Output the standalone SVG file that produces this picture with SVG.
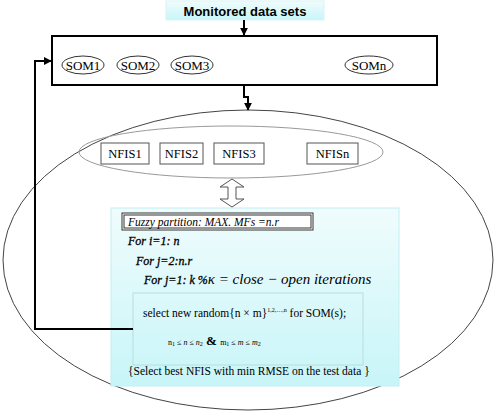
<svg xmlns="http://www.w3.org/2000/svg" width="494" height="417" viewBox="0 0 494 417">
<style>
.serif{font-family:'Liberation Serif','Times New Roman',serif;fill:#000}
.it{font-style:italic}
.som{fill:none;stroke:#333;stroke-width:1}
.nf{fill:#fff;stroke:#555;stroke-width:1}
.thick{fill:none;stroke:#000;stroke-width:2}
.for{stroke:#000;stroke-width:0.3}
</style>
<defs>
<linearGradient id="cy" x1="0" y1="0" x2="0" y2="1">
<stop offset="0" stop-color="#f0fcfd"/>
<stop offset="1" stop-color="#c8f5f8"/>
</linearGradient>
<marker id="ah" viewBox="0 0 10 10" refX="9" refY="5" markerWidth="4" markerHeight="4" orient="auto">
<path d="M0,0 L10,5 L0,10 z" fill="#000"/>
</marker>
</defs>
<g id="bigEllipse"><ellipse cx="248" cy="260" rx="245" ry="150" fill="none" stroke="#444" stroke-width="1"/></g>
<g id="title">
<rect x="166" y="1" width="158" height="19" fill="url(#cy)" stroke="#d8f4f6"/>
<text x="245" y="15.5" text-anchor="middle" font-family="'Liberation Sans', Arial, sans-serif" font-weight="bold" font-size="13">Monitored data sets</text>
</g>
<g id="somBox">
<rect x="52" y="36" width="385" height="49" fill="#fff" stroke="#000" stroke-width="2"/>
</g>
<g id="som1"><ellipse class="som" cx="83" cy="65" rx="21" ry="9"/><text class="serif" x="83" y="69.5" text-anchor="middle" font-size="13">SOM1</text></g>
<g id="som2"><ellipse class="som" cx="138" cy="65" rx="21" ry="9"/><text class="serif" x="138" y="69.5" text-anchor="middle" font-size="13">SOM2</text></g>
<g id="som3"><ellipse class="som" cx="192" cy="65" rx="21" ry="9"/><text class="serif" x="192" y="69.5" text-anchor="middle" font-size="13">SOM3</text></g>
<g id="somn"><ellipse class="som" cx="369" cy="65" rx="24" ry="9"/><text class="serif" x="369" y="69.5" text-anchor="middle" font-size="13">SOMn</text></g>
<g id="nfisGroup"><ellipse cx="231" cy="152" rx="152" ry="26" fill="none" stroke="#999" stroke-width="1"/></g>
<g id="nfis1"><rect class="nf" x="101" y="143" width="48" height="21"/><text class="serif" x="125" y="158" text-anchor="middle" font-size="12.5">NFIS1</text></g>
<g id="nfis2"><rect class="nf" x="160" y="143" width="43" height="21"/><text class="serif" x="181.5" y="158" text-anchor="middle" font-size="12.5">NFIS2</text></g>
<g id="nfis3"><rect class="nf" x="214" y="143" width="50" height="21"/><text class="serif" x="239" y="158" text-anchor="middle" font-size="12.5">NFIS3</text></g>
<g id="nfisn"><rect class="nf" x="307" y="143" width="51" height="21"/><text class="serif" x="332.5" y="158" text-anchor="middle" font-size="12.5">NFISn</text></g>
<g id="panel">
<rect x="111" y="208" width="288" height="178" fill="url(#cy)" stroke="#c4eef2" stroke-width="1"/>
<rect x="122" y="213" width="191" height="17" fill="#fff" stroke="#333" stroke-width="1"/>
<rect x="124" y="215" width="187" height="13" fill="none" stroke="#333" stroke-width="1"/>
<text class="serif it" x="128" y="226" font-size="11.5">Fuzzy partition: MAX. MFs =n.r</text>
<text class="serif it for" x="128" y="245" font-size="12">For i=1: n</text>
<text class="serif it for" x="136" y="265" font-size="12">For  j=2:n.r</text>
<text class="serif it" x="144" y="284" font-size="12"><tspan class="for">For  j=1: k %</tspan><tspan font-size="15">κ = close − open iterations</tspan></text>
<rect x="133" y="293" width="230" height="72" fill="none" stroke="#b8dde0" stroke-width="1"/>
<text class="serif" x="143" y="317" font-size="11.5">select new random{n × m}<tspan font-size="6" dy="-5">1,2,…,n</tspan><tspan dy="5"> for SOM(s);</tspan></text>
<text class="serif" x="168" y="345" font-size="8">n<tspan font-size="6" dy="1">1</tspan><tspan dy="-1"> ≤ </tspan><tspan class="it">n</tspan> ≤ <tspan class="it">n</tspan><tspan font-size="6" dy="1">2</tspan><tspan dy="-1" font-size="13" font-weight="bold">  &amp;  </tspan>m<tspan font-size="6" dy="1">1</tspan><tspan dy="-1"> ≤ </tspan><tspan class="it">m</tspan> ≤ <tspan class="it">m</tspan><tspan font-size="6" dy="1">2</tspan></text>
<text class="serif" x="128" y="375" font-size="11.5">{Select best NFIS with min RMSE on the test data }</text>
</g>
<g id="connectors">
<line class="thick" x1="244" y1="20" x2="244" y2="35" stroke-width="1.5" marker-end="url(#ah)"/>
<polyline class="thick" points="244,85 244,97 248,97 248,110" marker-end="url(#ah)"/>
<polyline class="thick" points="133,329 35,329 35,61 51,61" marker-end="url(#ah)"/>
<path d="M232,179 L244,187 L236,187 L236,199 L244,199 L232,207 L220,199 L228,199 L228,187 L220,187 Z" fill="#fff" stroke="#555" stroke-width="1"/>
</g>
</svg>
